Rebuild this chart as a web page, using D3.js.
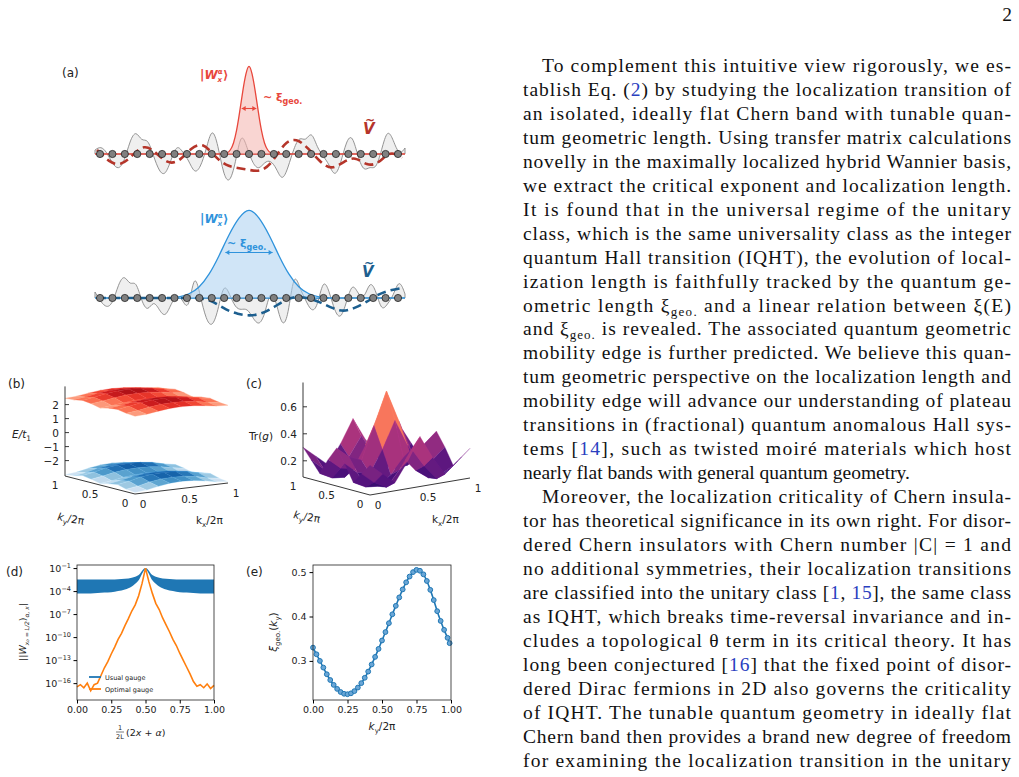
<!DOCTYPE html>
<html lang="en">
<head>
<meta charset="utf-8">
<title>page 2 figure</title>
<script src="https://d3js.org/d3.v7.min.js"></script>
<style>
  body { margin: 0; background: #fff; }
  svg { display: block; }
  .tick text { font-family: "DejaVu Sans", sans-serif; font-size: 9.5px; fill: #222; }
  .lbl { font-family: "DejaVu Sans", sans-serif; fill: #222; }
  .body { font-family: "Liberation Serif", serif; font-size: 19.5px; fill: #111; }
</style>
</head>
<body>
<script>
// ---- panel (a) data: disorder potential (px offsets, up positive), smoothed V, wavefunction profiles
var potTop = [4,8,2,-10,-16,-8,14,24,12,16,-2,-18,-22,-6,10,2,-6,-20,-14,4,28,10,-22,-30,-10,24,6,-10,-16,-8,-6,-14,-28,-14,6,18,12,24,6,-2,-10,-24,-10,14,20,-4,-18,-12,-16,4,26,14,-2,6];
var smoothTop = [4,-8,-12,-2,10,2,-10,-8,6,12,-2,-12,-14,-16,-18,-8,12,16,6,-8,-16,-8,-2,-12,-10,4,-4];
var potBot = [6,-4,-10,-6,14,24,12,18,-4,-14,-2,-12,-20,-6,4,-2,-14,28,2,-22,-30,-14,16,4,-10,-12,-10,-20,-28,-18,10,-4,-30,-20,28,10,-2,-14,-10,20,8,-14,-22,-4,16,4,-2,18,8,-14,-6,2,20,4];
var smoothBot = [0,0,0,0,0,0,0,0,0,0,-4,-12,-16,-18,-16,-10,-2,2,0,-4,-10,-14,-10,-4,4,8,10];
var gaussProfile = [0,0.01,0.04,0.11,0.25,0.46,0.70,0.89,1,0.89,0.70,0.46,0.25,0.11,0.04,0.01,0];
var nSites = 25;

// ---- panel (b) band energies on a 9x9 (kx, ky) grid
var kGrid = [0,0.125,0.25,0.375,0.5,0.625,0.75,0.875,1];
var bandUpper = [
 [2.45,2.5,2.62,2.72,2.75,2.72,2.62,2.5,2.45],
 [2.5,2.6,2.75,2.85,2.88,2.85,2.75,2.6,2.5],
 [2.62,2.75,2.9,3.0,3.02,3.0,2.9,2.75,2.62],
 [2.55,2.65,2.78,2.88,2.9,2.88,2.78,2.65,2.55],
 [2.4,2.48,2.58,2.66,2.7,2.66,2.58,2.48,2.4],
 [2.55,2.65,2.78,2.88,2.9,2.88,2.78,2.65,2.55],
 [2.62,2.75,2.9,3.0,3.02,3.0,2.9,2.75,2.62],
 [2.5,2.6,2.75,2.85,2.88,2.85,2.75,2.6,2.5],
 [2.45,2.5,2.62,2.72,2.75,2.72,2.62,2.5,2.45]];
var bandLower = [
 [-3.0,-2.92,-2.75,-2.62,-2.58,-2.62,-2.75,-2.92,-3.0],
 [-2.92,-2.8,-2.6,-2.48,-2.45,-2.48,-2.6,-2.8,-2.92],
 [-2.75,-2.6,-2.4,-2.3,-2.28,-2.3,-2.4,-2.6,-2.75],
 [-2.85,-2.72,-2.55,-2.45,-2.42,-2.45,-2.55,-2.72,-2.85],
 [-3.0,-2.9,-2.75,-2.66,-2.62,-2.66,-2.75,-2.9,-3.0],
 [-2.85,-2.72,-2.55,-2.45,-2.42,-2.45,-2.55,-2.72,-2.85],
 [-2.75,-2.6,-2.4,-2.3,-2.28,-2.3,-2.4,-2.6,-2.75],
 [-2.92,-2.8,-2.6,-2.48,-2.45,-2.48,-2.6,-2.8,-2.92],
 [-3.0,-2.92,-2.75,-2.62,-2.58,-2.62,-2.75,-2.92,-3.0]];

// ---- panel (c) Tr(g) on the same grid, rows = ky, cols = kx
var trG = [
 [0.30,0.22,0.14,0.28,0.45,0.28,0.14,0.22,0.30],
 [0.22,0.14,0.09,0.20,0.34,0.20,0.09,0.14,0.22],
 [0.14,0.09,0.08,0.15,0.26,0.15,0.08,0.09,0.14],
 [0.26,0.18,0.16,0.32,0.52,0.32,0.16,0.18,0.26],
 [0.36,0.28,0.24,0.48,0.72,0.48,0.24,0.28,0.36],
 [0.26,0.18,0.16,0.32,0.52,0.32,0.16,0.18,0.26],
 [0.14,0.09,0.08,0.15,0.26,0.15,0.08,0.09,0.14],
 [0.22,0.14,0.09,0.20,0.34,0.20,0.09,0.14,0.22],
 [0.30,0.22,0.14,0.28,0.45,0.28,0.14,0.22,0.30]];

// ---- panel (d) log10 |W|, x = (2x+alpha)/2L
var dX = [0,0.025,0.05,0.075,0.1,0.125,0.15,0.175,0.2,0.225,0.25,0.275,0.3,0.325,0.35,0.375,0.4,0.425,0.45,0.475,0.5,0.525,0.55,0.575,0.6,0.625,0.65,0.675,0.7,0.725,0.75,0.775,0.8,0.825,0.85,0.875,0.9,0.925,0.95,0.975,1];
var optimalLog = [-16.5,-16.2,-16.6,-16.0,-17.0,-16.2,-16.0,-15.0,-14.0,-13.2,-12.2,-11.3,-10.3,-9.5,-8.5,-7.6,-6.6,-5.8,-4.6,-3.0,-1.0,-2.8,-4.3,-5.6,-6.4,-7.5,-8.4,-9.3,-10.3,-11.1,-12.1,-13.0,-13.9,-14.8,-15.8,-16.4,-16.2,-16.6,-16.1,-16.7,-16.3];
var usualX = [0,0.05,0.1,0.15,0.2,0.25,0.3,0.35,0.4,0.45,0.5,0.55,0.6,0.65,0.7,0.75,0.8,0.85,0.9,0.95,1];
var usualUpper = [-2.5,-2.5,-2.5,-2.5,-2.5,-2.48,-2.45,-2.4,-2.25,-1.9,-1.0,-1.9,-2.25,-2.4,-2.45,-2.48,-2.5,-2.5,-2.5,-2.5,-2.5];
var usualLower = [-4.3,-4.3,-4.3,-4.25,-4.2,-4.15,-4.0,-3.8,-3.4,-2.6,-1.2,-2.6,-3.4,-3.8,-4.0,-4.15,-4.2,-4.25,-4.3,-4.3,-4.3];
var dTicks = [-1,-4,-7,-10,-13,-16];

// ---- panel (e) xi_geo(ky)
var eK = [0,0.025,0.05,0.075,0.1,0.125,0.15,0.175,0.2,0.225,0.25,0.275,0.3,0.325,0.35,0.375,0.4,0.425,0.45,0.475,0.5,0.525,0.55,0.575,0.6,0.625,0.65,0.675,0.7,0.725,0.75,0.775,0.8,0.825,0.85,0.875,0.9,0.925,0.95,0.975,0.99];
var eXi = [0.330,0.315,0.300,0.285,0.270,0.257,0.246,0.237,0.230,0.226,0.225,0.227,0.232,0.240,0.250,0.262,0.276,0.292,0.309,0.327,0.346,0.365,0.385,0.405,0.424,0.443,0.461,0.477,0.490,0.500,0.505,0.503,0.495,0.480,0.460,0.437,0.412,0.390,0.370,0.352,0.340];

// ---- body text lines
var textLines = [
 {t:[["To complement this intuitive view rigorously, we es-"]], ind:1},
 {t:[["tablish Eq. ("],["2",1],[") by studying the localization transition of"]]},
 {t:[["an isolated, ideally flat Chern band with tunable quan-"]]},
 {t:[["tum geometric length. Using transfer matrix calculations"]]},
 {t:[["novelly in the maximally localized hybrid Wannier basis,"]]},
 {t:[["we extract the critical exponent and localization length."]]},
 {t:[["It is found that in the universal regime of the unitary"]]},
 {t:[["class, which is the same universality class as the integer"]]},
 {t:[["quantum Hall transition (IQHT), the evolution of local-"]]},
 {t:[["ization length is faithfully tracked by the quantum ge-"]]},
 {t:[["ometric length ξ"],["geo.",0,1],[" and a linear relation between ξ(E)"]]},
 {t:[["and ξ"],["geo.",0,1],[" is revealed. The associated quantum geometric"]]},
 {t:[["mobility edge is further predicted. We believe this quan-"]]},
 {t:[["tum geometric perspective on the localization length and"]]},
 {t:[["mobility edge will advance our understanding of plateau"]]},
 {t:[["transitions in (fractional) quantum anomalous Hall sys-"]]},
 {t:[["tems ["],["14",1],["], such as twisted moiré materials which host"]]},
 {t:[["nearly flat bands with general quantum geometry."]], last:1},
 {t:[["Moreover, the localization criticality of Chern insula-"]], ind:1},
 {t:[["tor has theoretical significance in its own right. For disor-"]]},
 {t:[["dered Chern insulators with Chern number |C| = 1 and"]]},
 {t:[["no additional symmetries, their localization transitions"]]},
 {t:[["are classified into the unitary class ["],["1",1],[", "],["15",1],["], the same class"]]},
 {t:[["as IQHT, which breaks time-reversal invariance and in-"]]},
 {t:[["cludes a topological θ term in its critical theory. It has"]]},
 {t:[["long been conjectured ["],["16",1],["] that the fixed point of disor-"]]},
 {t:[["dered Dirac fermions in 2D also governs the criticality"]]},
 {t:[["of IQHT. The tunable quantum geometry in ideally flat"]]},
 {t:[["Chern band then provides a brand new degree of freedom"]]},
 {t:[["for examining the localization transition in the unitary"]]}
];

var svg = d3.select("body").append("svg").attr("width", 1019).attr("height", 777).attr("font-size", "10.5px");

// ================= text column =================
svg.append("text").attr("class", "body").attr("x", 1012).attr("y", 21).attr("text-anchor", "end").text("2");
textLines.forEach(function(ln, i) {
  var x0 = ln.ind ? 542 : 523;
  var t = svg.append("text").attr("class", "body").attr("x", x0).attr("y", 72 + i * 23.95);
  if (!ln.last) t.attr("textLength", 1011 - x0).attr("lengthAdjust", "spacing");
  ln.t.forEach(function(p, j) {
    var s = t.append("tspan").text(p[0]);
    if (p[1]) s.attr("fill", "#2a3fbf");
    if (p[2]) s.attr("font-size", "13px").attr("dy", 4);
    if (j > 0 && ln.t[j - 1][2]) s.attr("dy", -4);
  });
});

// ================= panel (a) =================
function panelA(base, pot, smooth, prof, sigmaPx, col, dark, fillCol, lbl) {
  var xs = d3.scaleLinear().domain([0, nSites - 1]).range([100, 398]);
  var xp = d3.scaleLinear().domain([0, pot.length - 1]).range([95, 405]);
  var area = d3.area().curve(d3.curveBasis).x(function(d, i) { return xp(i); }).y0(base).y1(function(d) { return base - d; });
  svg.append("path").datum(pot).attr("d", area).attr("fill", "#efefef").attr("stroke", "#888").attr("stroke-width", 0.9);
  svg.append("line").attr("x1", 95).attr("x2", 405).attr("y1", base).attr("y2", base).attr("stroke", col).attr("stroke-width", 1.6);
  var xc = xs(12);
  var xg = d3.scaleLinear().domain([0, prof.length - 1]).range([xc - 4 * sigmaPx, xc + 4 * sigmaPx]);
  var ga = d3.area().curve(d3.curveBasis).x(function(d, i) { return xg(i); }).y0(base).y1(function(d) { return base - 91 * d; });
  svg.append("path").datum(prof).attr("d", ga).attr("fill", fillCol).attr("fill-opacity", 0.55).attr("stroke", "none");
  svg.append("path").datum(prof).attr("d", ga.lineY1()).attr("fill", "none").attr("stroke", col).attr("stroke-width", 1.3);
  var xsm = d3.scaleLinear().domain([0, smooth.length - 1]).range([97, 402]);
  svg.append("path").datum(smooth).attr("d", d3.line().curve(d3.curveBasis).x(function(d, i) { return xsm(i); }).y(function(d) { return base - d; }))
    .attr("fill", "none").attr("stroke", dark).attr("stroke-width", 2.6).attr("stroke-dasharray", "9,5");
  svg.selectAll(null).data(d3.range(nSites)).enter().append("circle")
    .attr("cx", function(d) { return xs(d); }).attr("cy", base).attr("r", 3.6)
    .attr("fill", "#808080").attr("stroke", "#222").attr("stroke-width", 0.8);
  var ay = base - 91 * 0.5, hw = sigmaPx * 1.18;
  svg.append("line").attr("x1", xc - hw).attr("x2", xc + hw).attr("y1", ay).attr("y2", ay).attr("stroke", col).attr("stroke-width", 1.1);
  [-1, 1].forEach(function(s) {
    svg.append("path").attr("d", "M" + (xc + s * hw) + "," + ay + "l" + (-s * 4) + ",-2.5v5z").attr("fill", col);
  });
  var lt = svg.append("text").attr("x", lbl.x).attr("y", lbl.y).attr("fill", col).attr("font-family", "DejaVu Sans").attr("font-size", "11px").attr("font-weight", "bold");
  lt.append("tspan").text("~ ξ");
  lt.append("tspan").text("geo.").attr("font-size", "8px").attr("dy", 3);
  var wt = svg.append("text").attr("x", 200).attr("y", lbl.wy).attr("fill", col).attr("font-family", "DejaVu Sans").attr("font-size", "12px").attr("font-weight", "bold");
  wt.append("tspan").text("|");
  wt.append("tspan").text("W").attr("font-style", "italic");
  wt.append("tspan").text("α").attr("font-size", "7px").attr("dy", -5).attr("dx", 0);
  wt.append("tspan").text("x").attr("font-size", "7px").attr("font-style", "italic").attr("dy", 8).attr("dx", -5);
  wt.append("tspan").text("⟩").attr("dy", -3).attr("dx", 1);
  svg.append("text").attr("x", lbl.vx).attr("y", lbl.vy).attr("fill", dark).attr("font-family", "DejaVu Sans")
    .attr("font-size", "15px").attr("font-weight", "bold").attr("font-style", "italic").text("V");
  svg.append("text").attr("x", lbl.vx + 2).attr("y", lbl.vy - 10).attr("fill", dark).attr("font-family", "DejaVu Sans").attr("font-size", "12px").attr("font-weight", "bold").text("~");
}
svg.append("text").attr("class", "lbl").attr("x", 62).attr("y", 77).attr("font-size", "12px").text("(a)");
panelA(154, potTop, smoothTop, gaussProfile, 6.2, "#e8473c", "#b5352a", "#f4b2ad", {x: 263, y: 101, wy: 79, vx: 363, vy: 134});
panelA(298, potBot, smoothBot, gaussProfile, 20, "#2f93dc", "#1d5f8f", "#a9d0f0", {x: 227, y: 247, wy: 223, vx: 362, vy: 277});

// ================= 3D helpers =================
function surf3d(grid, proj, colorFn) {
  var quads = [];
  for (var j = 0; j < kGrid.length - 1; j++) for (var i = 0; i < kGrid.length - 1; i++) {
    var pts = [[i, j], [i + 1, j], [i + 1, j + 1], [i, j + 1]];
    var zm = d3.mean(pts, function(p) { return grid[p[1]][p[0]]; });
    quads.push({pts: pts, z: zm, depth: i + j});
  }
  quads.sort(function(a, b) { return b.depth - a.depth; });
  svg.append("g").selectAll("path").data(quads).enter().append("path")
    .attr("d", function(q) {
      return "M" + q.pts.map(function(p) { return proj(kGrid[p[0]], kGrid[p[1]], grid[p[1]][p[0]]); }).join("L") + "Z";
    })
    .attr("fill", function(q) { return colorFn(q.z); })
    .attr("stroke", function(q) { return d3.color(colorFn(q.z)).brighter(0.3); }).attr("stroke-width", 0.3);
}
function axes3d(proj, zmin, zticks, zfmt, o) {
  var g = svg.append("g").attr("stroke", "#222").attr("stroke-width", 0.9);
  var p00 = proj(0, 0, zmin), p10 = proj(1, 0, zmin), p01 = proj(0, 1, zmin), ptop = proj(0, 1, o.zmax);
  g.append("line").attr("x1", p00[0]).attr("y1", p00[1]).attr("x2", p10[0]).attr("y2", p10[1]);
  g.append("line").attr("x1", p00[0]).attr("y1", p00[1]).attr("x2", p01[0]).attr("y2", p01[1]);
  g.append("line").attr("x1", p01[0]).attr("y1", p01[1]).attr("x2", ptop[0]).attr("y2", ptop[1]);
  zticks.forEach(function(z) {
    var p = proj(0, 1, z);
    g.append("line").attr("x1", p[0]).attr("x2", p[0] + 4).attr("y1", p[1]).attr("y2", p[1]);
    svg.append("text").attr("class", "lbl").attr("x", p[0] - 6).attr("y", p[1] + 4).attr("text-anchor", "end").text(zfmt(z));
  });
  [0, 0.5, 1].forEach(function(k) {
    var a = proj(k, 0, zmin), b = proj(0, k, zmin);
    svg.append("text").attr("class", "lbl").attr("x", a[0] + 8).attr("y", a[1] + 14).attr("text-anchor", "middle").text(k);
    svg.append("text").attr("class", "lbl").attr("x", b[0] - 10).attr("y", b[1] + 13).attr("text-anchor", "middle").text(k);
  });
}

// ================= panel (b) =================
var projB = function(kx, ky, z) {
  return [135 + kx * 93 - ky * 70, 494 - kx * 11 - ky * 18 - (z + 3.1) * 14];
};
var redScale = d3.scaleSequential(d3.interpolateReds).domain([2.2, 3.1]);
var blueScale = d3.scaleSequential(d3.interpolateBlues).domain([-3.1, -2.2]);
surf3d(bandLower, projB, blueScale);
surf3d(bandUpper, projB, redScale);
axes3d(projB, -3.1, [2, 1, 0, -1, -2], function(z) { return z < 0 ? "−" + (-z) : z; }, {zmax: 3.3});
svg.append("text").attr("class", "lbl").attr("x", 8).attr("y", 388).attr("font-size", "12px").text("(b)");
svg.append("text").attr("class", "lbl").attr("x", 12).attr("y", 438).attr("font-style", "italic").html("E/t<tspan font-size='7.5px' dy='3' font-style='normal'>1</tspan>");
svg.append("text").attr("class", "lbl").attr("x", 57).attr("y", 520).attr("transform", "rotate(10,57,520)").html("<tspan font-style='italic'>k</tspan><tspan font-size='7px' dy='3'>y</tspan><tspan dy='-3'>/2π</tspan>");
svg.append("text").attr("class", "lbl").attr("x", 196).attr("y", 524).html("k<tspan font-size='7px' dy='3'>x</tspan><tspan dy='-3'>/2π</tspan>");

// ================= panel (c) =================
var projC = function(kx, ky, z) {
  return [370 + kx * 100 - ky * 67, 495 - kx * 17 - ky * 18 - (z - 0.08) * 135];
};
var magma = d3.scaleSequential(function(t) { return d3.interpolateMagma(0.15 + 0.85 * t); }).domain([0.06, 0.74]);
surf3d(trG, projC, magma);
axes3d(projC, 0.08, [0.6, 0.4, 0.2], d3.format(".1f"), {zmax: 0.78});
svg.append("text").attr("class", "lbl").attr("x", 246).attr("y", 388).attr("font-size", "12px").text("(c)");
svg.append("text").attr("class", "lbl").attr("x", 249).attr("y", 440).html("Tr(<tspan font-style='italic'>g</tspan>)");
svg.append("text").attr("class", "lbl").attr("x", 293).attr("y", 518).attr("transform", "rotate(10,293,518)").html("<tspan font-style='italic'>k</tspan><tspan font-size='7px' dy='3'>y</tspan><tspan dy='-3'>/2π</tspan>");
svg.append("text").attr("class", "lbl").attr("x", 432).attr("y", 523).html("k<tspan font-size='7px' dy='3'>x</tspan><tspan dy='-3'>/2π</tspan>");

// ================= panel (d) =================
var dx = d3.scaleLinear().domain([0, 1]).range([77, 214]);
var dy = d3.scaleLinear().domain([-18.2, -0.6]).range([700, 565]);
var gd = svg.append("g");
gd.append("path").datum(usualX).attr("fill", "#1f77b4")
  .attr("d", d3.area().x(function(d) { return dx(d); }).y0(function(d, i) { return dy(usualLower[i]); }).y1(function(d, i) { return dy(usualUpper[i]); }).curve(d3.curveMonotoneX));
gd.append("path").datum(optimalLog).attr("fill", "none").attr("stroke", "#ff7f0e").attr("stroke-width", 1.6)
  .attr("d", d3.line().x(function(d, i) { return dx(dX[i]); }).y(function(d) { return dy(d); }));
gd.append("rect").attr("x", 77).attr("y", 565).attr("width", 137).attr("height", 135).attr("fill", "none").attr("stroke", "#222").attr("stroke-width", 0.8);
gd.append("g").attr("transform", "translate(0,700)").call(d3.axisBottom(dx).tickValues([0, 0.25, 0.5, 0.75, 1]).tickFormat(d3.format(".2f")).tickSize(3.5)).select(".domain").remove();
var yax = gd.append("g").attr("transform", "translate(77,0)").call(d3.axisLeft(dy).tickValues(dTicks).tickFormat("").tickSize(3.5));
yax.select(".domain").remove();
dTicks.forEach(function(t) {
  gd.append("text").attr("class", "lbl").attr("x", 71).attr("y", dy(t) + 3.5).attr("text-anchor", "end").attr("font-size", "9.5px")
    .html("10<tspan font-size='6.5px' dy='-4'>" + (t < 0 ? "−" : "") + Math.abs(t) + "</tspan>");
});
[["Usual gauge", "#1f77b4", 677], ["Optimal gauge", "#ff7f0e", 689]].forEach(function(l) {
  gd.append("line").attr("x1", 89).attr("x2", 101).attr("y1", l[2]).attr("y2", l[2]).attr("stroke", l[1]).attr("stroke-width", 1.8);
  gd.append("text").attr("class", "lbl").attr("x", 105).attr("y", l[2] + 2.5).attr("font-size", "6.5px").text(l[0]);
});
svg.append("text").attr("class", "lbl").attr("x", 6).attr("y", 576).attr("font-size", "12px").text("(d)");
svg.append("text").attr("class", "lbl").attr("transform", "translate(26,632) rotate(-90)").attr("text-anchor", "middle").attr("font-size", "9.5px")
  .html("||<tspan font-style='italic'>W</tspan><tspan font-size='6px' dy='3' font-style='italic'>x₀ = L/2</tspan><tspan dy='-3'>)</tspan><tspan font-size='6px' dy='3' font-style='italic'>α, x</tspan><tspan dy='-3'>|</tspan>");
svg.append("text").attr("class", "lbl").attr("x", 118).attr("y", 730).attr("font-size", "6.5px").text("1");
svg.append("line").attr("x1", 116).attr("x2", 124).attr("y1", 732).attr("y2", 732).attr("stroke", "#222").attr("stroke-width", 0.6);
svg.append("text").attr("class", "lbl").attr("x", 116).attr("y", 739).attr("font-size", "6.5px").text("2L");
svg.append("text").attr("class", "lbl").attr("x", 126).attr("y", 736).attr("font-size", "9.5px").html("(2<tspan font-style='italic'>x</tspan> + <tspan font-style='italic'>α</tspan>)");

// ================= panel (e) =================
var ex = d3.scaleLinear().domain([0, 1]).range([313, 451]);
var ey = d3.scaleLinear().domain([0.212, 0.516]).range([700, 565]);
var ge = svg.append("g");
ge.append("path").datum(eXi).attr("fill", "none").attr("stroke", "#1f77b4").attr("stroke-width", 1.6)
  .attr("d", d3.line().curve(d3.curveCatmullRom).x(function(d, i) { return ex(eK[i]); }).y(function(d) { return ey(d); }));
ge.selectAll("circle").data(eXi).enter().append("circle")
  .attr("cx", function(d, i) { return ex(eK[i]); }).attr("cy", function(d) { return ey(d); }).attr("r", 2.4)
  .attr("fill", "#6aa6d6").attr("stroke", "#1f77b4").attr("stroke-width", 1);
ge.append("rect").attr("x", 313).attr("y", 565).attr("width", 138).attr("height", 135).attr("fill", "none").attr("stroke", "#222").attr("stroke-width", 0.8);
ge.append("g").attr("transform", "translate(0,700)").call(d3.axisBottom(ex).tickValues([0, 0.25, 0.5, 0.75, 1]).tickFormat(d3.format(".2f")).tickSize(3.5)).select(".domain").remove();
ge.append("g").attr("transform", "translate(313,0)").call(d3.axisLeft(ey).tickValues([0.3, 0.4, 0.5]).tickFormat(d3.format(".1f")).tickSize(3.5)).select(".domain").remove();
svg.append("text").attr("class", "lbl").attr("x", 246).attr("y", 576).attr("font-size", "12px").text("(e)");
svg.append("text").attr("class", "lbl").attr("transform", "translate(277,632) rotate(-90)").attr("text-anchor", "middle")
  .html("<tspan font-style='italic'>ξ</tspan><tspan font-size='7px' dy='3'>geo.</tspan><tspan dy='-3'>(</tspan><tspan font-style='italic'>k</tspan><tspan font-size='7px' dy='3'>y</tspan><tspan dy='-3'>)</tspan>");
svg.append("text").attr("class", "lbl").attr("x", 382).attr("y", 730).attr("text-anchor", "middle")
  .html("<tspan font-style='italic'>k</tspan><tspan font-size='7px' dy='3'>y</tspan><tspan dy='-3'>/2π</tspan>");
</script>
</body>
</html>
